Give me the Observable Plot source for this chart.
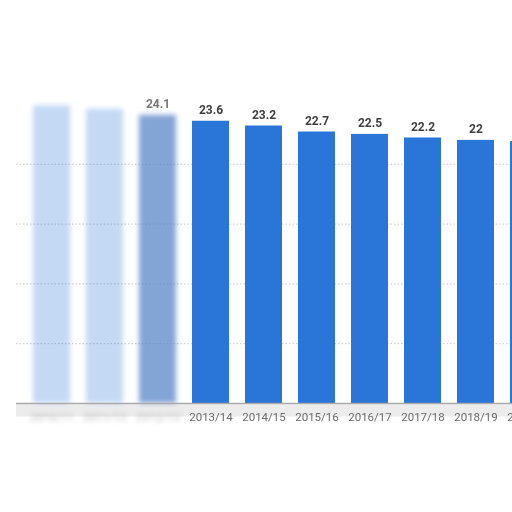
<!DOCTYPE html>
<html>
<head>
<meta charset="utf-8">
<script src="https://cdn.jsdelivr.net/npm/d3@7"></script>
<script src="https://cdn.jsdelivr.net/npm/@observablehq/plot@0.6"></script>
<style>
  html, body { margin: 0; padding: 0; background: #fff; overflow: hidden; width: 512px; height: 512px; }
  #chart svg { max-width: none !important; display: block; }
  .faded { filter: blur(2.5px); }
  .soft { filter: blur(0.4px); }
</style>
</head>
<body>
<div id="chart"></div>
<script>
const seasons = ["2010/11","2011/12","2012/13","2013/14","2014/15","2015/16","2016/17","2017/18","2018/19","2019/20"];
const values  = [24.9, 24.6, 24.1, 23.6, 23.2, 22.7, 22.5, 22.2, 22, 21.9];
const yTicks  = [5, 10, 15, 20];
const blurred = ["2010/11","2011/12","2012/13"];

const data = seasons.map((s, i) => ({season: s, value: values[i]}));
const clear = data.filter(d => !blurred.includes(d.season));
const faded = data.filter(d => blurred.includes(d.season));

const chart = Plot.plot({
  width: 564,
  height: 512,
  marginLeft: 16,
  marginRight: 0,
  marginTop: 104,
  marginBottom: 109,
  style: {fontFamily: "Roboto, 'Open Sans', sans-serif", background: "transparent"},
  x: {domain: seasons, padding: 0.3, axis: null},
  y: {domain: [0, 25], axis: null},
  marks: [
    Plot.ruleY(yTicks, {stroke: "#c8c8c8", strokeDasharray: "1.5,2", strokeWidth: 1}),
    Plot.ruleY([25], {x1: "2012/13", dy: -1, stroke: "#d4d4d4", strokeWidth: 1.5}),
    Plot.ruleY([0], {dy: 7, stroke: "#ececec", strokeWidth: 12}),
    Plot.barY(faded, {x: "season", y: "value", fill: d => d.season === "2012/13" ? "#4f7fc4" : "#2a76d8", fillOpacity: d => d.season === "2012/13" ? 0.7 : 0.28, className: "faded"}),
    Plot.barY(clear, {x: "season", y: "value", fill: "#2a76d8"}),
    Plot.ruleY([0], {stroke: "#a9a9a9", strokeWidth: 1.5}),
    Plot.text(clear, {x: "season", y: "value", text: d => String(d.value), dy: -11, fontSize: 12, fontWeight: "bold", fill: "#404040", className: "soft"}),
    Plot.text(faded.filter(d => d.season === "2012/13"), {x: "season", y: "value", text: d => String(d.value), dy: -11, fontSize: 12, fontWeight: "bold", fill: "#777", className: "soft"}),
    Plot.text(clear, {x: "season", y: 0, text: "season", dy: 14, fontSize: 11.5, fill: "#6b6b6b", className: "soft"}),
    Plot.text(faded, {x: "season", y: 0, text: "season", dy: 14, fontSize: 11.5, fill: "#bbbbbb", className: "faded"})
  ]
});
document.getElementById("chart").appendChild(chart);
</script>
</body>
</html>
